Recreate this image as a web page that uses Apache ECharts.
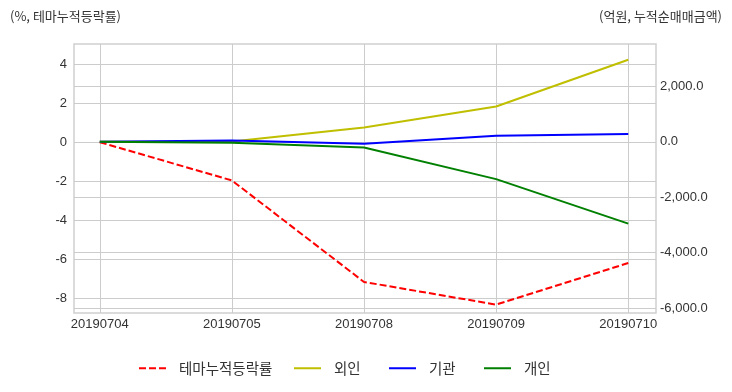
<!DOCTYPE html>
<html><head><meta charset="utf-8">
<script src="https://cdn.jsdelivr.net/npm/echarts@6/dist/echarts.min.js"></script>
<style>html,body{margin:0;padding:0;background:#fff}#c{width:732px;height:392px}</style>
</head><body><div id="c"></div>
<script>
const categories = ['20190704','20190705','20190708','20190709','20190710'];
const themeReturn = [0, -1.96, -7.16, -8.32, -6.19];
const foreign = [0, 10, 517, 1276, 2963];
const institution = [0, 50, -72, 217, 278];
const individual = [0, -35, -206, -1348, -2952];
const leftTicks = [-8, -6, -4, -2, 0, 2, 4];
const rightTicks = [-6000, -4000, -2000, 0, 2000];
const seriesNames = ['테마누적등락률', '외인', '기관', '개인'];

const font = "'Liberation Sans', 'Noto Sans CJK KR', sans-serif";
const kfont = "'Noto Sans CJK KR', sans-serif";
const gridColor = '#cccccc';
const idx = categories.map((c, i) => i);
const pair = arr => arr.map((v, i) => [idx[i], v]);

const chart = echarts.init(document.getElementById('c'), null, {renderer: 'canvas'});
const mkLegend = (name, left) => ({
  data: [name], left: left, top: 356, itemWidth: 27, itemHeight: 14,
  itemStyle: {opacity: 0},
  textStyle: {fontFamily: kfont, fontSize: 14.5, color: '#333', padding: [0, 0, 0, 8]}
});
chart.setOption({
  animation: false,
  title: [
    {text: '(%, 테마누적등락률)', left: 5, top: 5, textStyle: {fontFamily: kfont, fontSize: 13, fontWeight: 'normal', color: '#333'}},
    {text: '(억원, 누적순매매금액)', right: 5, top: 5, textStyle: {fontFamily: kfont, fontSize: 13, fontWeight: 'normal', color: '#333'}}
  ],
  legend: [mkLegend(seriesNames[0], 133), mkLegend(seriesNames[1], 288), mkLegend(seriesNames[2], 383), mkLegend(seriesNames[3], 478)],
  grid: {left: 74, right: 76, top: 44, bottom: 79, show: true, borderColor: '#d0d0d0', borderWidth: 1.5, containLabel: false},
  xAxis: {
    type: 'value', min: -0.195, max: 4.21,
    axisLine: {show: false}, axisTick: {show: false, customValues: idx},
    axisLabel: {customValues: idx, formatter: v => categories[Math.round(v)], fontFamily: font, fontSize: 13, color: '#333', margin: 5},
    splitLine: {show: true, lineStyle: {color: gridColor, width: 1}}
  },
  yAxis: [
    {type: 'value', min: -8.75, max: 5.03, position: 'left',
     axisLine: {show: false}, axisTick: {show: false, customValues: leftTicks},
     axisLabel: {customValues: leftTicks, fontFamily: font, fontSize: 13, color: '#333', margin: 7},
     splitLine: {show: true, lineStyle: {color: gridColor, width: 1}}},
    {type: 'value', min: -6180, max: 3531, position: 'right',
     axisLine: {show: false}, axisTick: {show: false, customValues: rightTicks},
     axisLabel: {customValues: rightTicks, fontFamily: font, fontSize: 13, color: '#333', margin: 4,
       formatter: v => v.toLocaleString('en-US', {minimumFractionDigits: 1, maximumFractionDigits: 1})},
     splitLine: {show: true, lineStyle: {color: gridColor, width: 1}}}
  ],
  series: [
    {name: seriesNames[0], type: 'line', yAxisIndex: 0, data: pair(themeReturn), symbol: 'none', color: '#ff0000',
     lineStyle: {color: '#ff0000', width: 2, type: [7, 3]}},
    {name: seriesNames[1], type: 'line', yAxisIndex: 1, data: pair(foreign), symbol: 'none', color: '#bfbf00',
     lineStyle: {color: '#bfbf00', width: 2}},
    {name: seriesNames[2], type: 'line', yAxisIndex: 1, data: pair(institution), symbol: 'none', color: '#0000ff',
     lineStyle: {color: '#0000ff', width: 2}},
    {name: seriesNames[3], type: 'line', yAxisIndex: 1, data: pair(individual), symbol: 'none', color: '#008000',
     lineStyle: {color: '#008000', width: 2}}
  ]
});
</script></body></html>
